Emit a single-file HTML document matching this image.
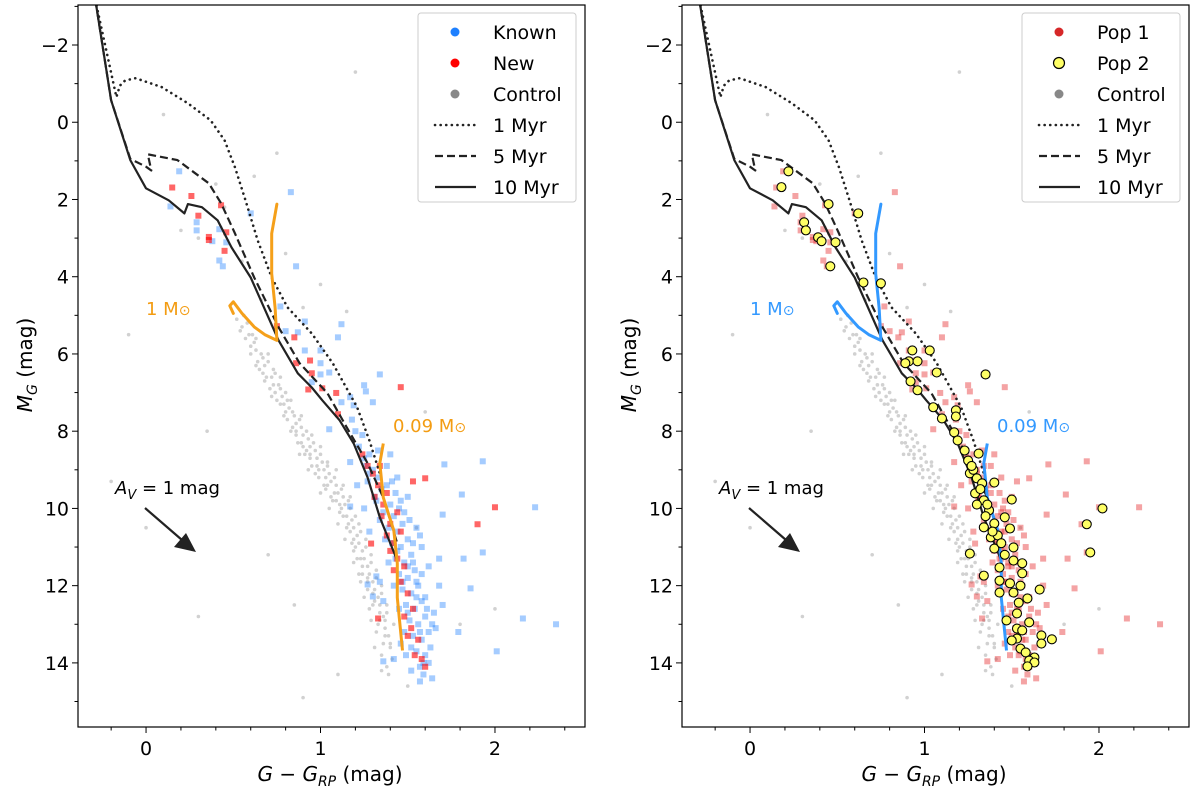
<!DOCTYPE html>
<html><head><meta charset="utf-8"><style>
body{margin:0;background:#fff}
svg text{font-family:"DejaVu Sans","Liberation Sans",sans-serif}
</style></head><body>
<svg id="fig" width="1200" height="795" viewBox="0 0 1200 795" xmlns="http://www.w3.org/2000/svg"></svg>
<script>
// ---- data (color G-GRP, absolute mag MG) ----
const iso10c=[-0.29,-0.20,-0.09,0.0,0.13,0.22,0.24,0.32,0.41,0.49,0.60,0.76,0.87,0.95,1.01,1.11,1.19,1.27,1.34,1.44];
const iso10m=[-3.16,-0.57,0.98,1.71,2.02,2.36,2.12,2.20,2.54,3.24,4.02,5.65,6.50,6.87,7.20,7.72,8.32,9.20,10.23,11.35];
const iso5c=[-0.29,-0.20,-0.09,0.0,0.03,0.01,0.18,0.36,0.43,0.51,0.62,0.76,0.88,1.04,1.15,1.27,1.36,1.44];
const iso5m=[-3.16,-0.57,0.95,1.15,1.25,0.83,0.98,1.58,2.10,2.88,4.02,5.31,6.24,7.02,7.90,8.83,9.72,10.91];
const iso1c=[-0.29,-0.17,-0.15,-0.12,-0.06,0.09,0.24,0.37,0.45,0.51,0.57,0.64,0.72,0.81,0.95,1.07,1.21,1.28,1.34];
const iso1m=[-3.16,-0.65,-0.95,-1.08,-1.14,-0.91,-0.49,-0.05,0.47,1.17,2.02,3.06,4.02,4.79,5.47,6.24,7.38,8.24,9.09];
const trk1c=[0.75,0.72,0.72,0.74,0.75,0.68,0.62,0.55,0.50,0.48,0.50];
const trk1m=[2.12,2.88,3.92,4.80,5.65,5.50,5.30,4.95,4.65,4.75,4.95];
const trk09c=[1.36,1.34,1.36,1.42,1.44,1.44,1.47];
const trk09m=[8.32,8.83,9.72,10.57,11.42,12.31,13.68];
const controlPts=[0.52,5.1,0.55,5.3,0.58,5.2,0.57,5.6,0.61,5.5,0.63,5.9,0.60,5.8,0.66,6.0,0.68,6.3,0.65,6.4,0.70,6.2,0.72,6.6,0.74,6.5,0.71,6.9,0.76,6.8,0.78,7.1,0.75,7.2,0.80,7.0,0.82,7.4,0.79,7.6,0.84,7.5,0.86,7.8,0.83,8.0,0.88,7.7,0.90,8.1,0.87,8.3,0.92,8.0,0.94,8.4,0.91,8.6,0.96,8.3,0.98,8.7,0.95,8.9,1.00,8.6,1.02,9.0,0.99,9.2,1.04,8.9,1.06,9.3,1.03,9.5,1.08,9.2,1.10,9.6,1.07,9.8,1.12,9.5,1.14,9.9,1.11,10.1,1.16,9.8,1.18,10.3,1.15,10.5,1.20,10.2,1.21,10.7,1.18,10.9,1.23,10.6,1.24,11.1,1.21,11.3,1.26,11.0,1.27,11.5,1.24,11.7,1.29,11.4,1.30,11.9,1.27,12.1,1.32,11.8,1.33,12.3,1.30,12.5,1.35,12.2,1.36,12.8,1.33,13.0,1.38,12.7,1.39,13.3,1.36,13.5,1.41,13.9,1.38,14.1,
0.56,5.0,0.62,5.7,0.67,6.1,0.73,6.4,0.77,6.9,0.81,7.2,0.85,7.6,0.89,7.9,0.93,8.2,0.97,8.5,1.01,8.8,1.05,9.1,1.09,9.4,1.13,9.7,1.17,10.0,1.19,10.5,1.22,10.9,1.25,11.3,1.28,11.7,1.31,12.1,1.34,12.5,1.37,12.9,1.40,13.6,0.88,8.6,0.93,9.0,1.00,9.6,1.05,10.0,1.10,10.4,1.14,10.8,1.19,11.4,1.23,11.9,1.28,12.6,1.32,13.2,1.35,13.8,
0.64,6.2,0.69,6.6,0.74,7.0,0.79,7.3,0.84,7.9,0.89,8.3,0.94,8.7,0.99,9.0,1.04,9.4,1.09,9.8,1.13,10.2,1.17,10.6,1.20,11.0,1.24,11.5,1.27,11.9,1.31,12.4,1.34,12.9,1.37,13.3,1.39,14.3,0.59,5.5,
0.54,5.4,0.60,6.0,0.63,5.6,0.67,6.5,0.70,6.0,0.73,6.8,0.77,6.6,0.80,7.5,0.83,7.2,0.86,8.1,0.89,7.6,0.92,8.5,0.95,8.1,0.97,9.1,1.00,8.4,1.02,9.4,1.04,8.8,1.06,9.7,1.09,9.0,1.11,9.9,1.13,9.4,1.15,10.2,1.17,9.7,1.19,10.8,1.22,10.4,1.23,11.3,1.26,10.8,1.27,11.8,1.29,11.2,1.30,12.2,1.32,11.6,1.34,12.7,1.35,12.0,1.37,13.1,1.38,12.5,1.40,13.5,1.42,13.0,1.35,14.2,1.31,13.6,1.29,12.9,1.25,12.3,1.22,11.7,1.19,11.1,1.16,10.4,1.12,10.0,1.08,9.6,1.03,9.2,0.98,8.9,0.94,8.6,0.90,8.4,0.86,8.0,0.81,7.7,0.77,7.3,0.72,7.1,0.68,6.7,0.63,6.3,
0.10,-0.2,0.40,1.6,0.30,3.0,0.45,2.2,0.62,1.4,0.75,0.8,0.80,3.4,0.90,4.8,0.55,3.6,-0.1,5.5,0.0,10.5,0.3,12.8,0.9,14.9,1.1,14.3,1.8,13.0,2.0,12.6,1.6,7.5,1.0,4.2,0.35,8.0,-0.2,9.3,1.55,10.5,0.70,11.2,0.85,12.5,1.5,14.6,0.2,2.8,1.2,-1.3,0.66,4.6,1.15,4.9];
const knownPts=[0.19,1.27,0.14,2.18,0.29,2.59,0.29,2.8,0.38,3.08,0.42,3.58,0.44,3.73,0.46,3.11,0.42,2.77,0.6,2.36,0.83,1.81,0.86,3.73,0.77,4.77,0.80,5.41,0.87,5.44,0.91,5.16,1.12,5.23,1.10,5.57,0.91,5.91,1.0,5.91,1.0,6.24,1.05,6.48,1.0,6.53,0.95,6.73,1.34,6.53,1.25,6.81,1.26,6.97,1.30,7.25,1.17,7.12,1.12,7.25,1.19,7.33,
1.71,8.86,1.93,8.78,1.81,9.64,2.23,9.97,1.70,10.16,1.93,11.14,1.82,11.30,1.68,11.30,1.86,12.07,2.16,12.85,2.35,13.0,2.01,13.7,1.79,13.2,1.36,13.96,1.42,13.9,1.57,14.48,1.27,11.97,1.30,12.28,1.32,11.76,1.17,9.95,1.05,7.95,
1.22,8.4,1.25,8.7,1.28,8.6,1.30,9.0,1.33,9.2,1.27,9.3,1.35,9.5,1.38,9.4,1.32,9.8,1.40,9.9,1.36,10.1,1.42,10.2,1.45,10.0,1.39,10.5,1.44,10.6,1.47,10.4,1.41,10.9,1.46,11.0,1.50,10.8,1.43,11.3,1.48,11.4,1.52,11.2,1.45,11.7,1.50,11.8,1.54,11.6,1.47,12.1,1.52,12.2,1.56,12.0,1.49,12.5,1.54,12.6,1.58,12.4,1.51,12.9,1.56,13.0,1.60,12.8,1.53,13.3,1.58,13.4,1.62,13.2,1.55,13.7,1.60,13.8,1.57,14.1,1.62,14.0,1.59,14.3,1.48,13.2,1.45,12.6,1.42,12.0,1.39,11.4,1.37,10.8,1.34,10.3,1.31,9.7,1.28,9.1,1.26,8.9,1.50,11.5,1.55,11.9,1.60,12.3,1.65,12.7,1.63,13.6,1.66,13.1,1.53,10.9,1.48,10.1,1.43,9.6,1.38,8.9,1.33,8.5,1.24,8.1,1.18,7.7,1.20,8.0,1.44,9.2,1.40,8.6,1.50,9.7,1.55,10.5,1.58,11.0,1.62,11.5,1.68,12.0,1.70,12.5,1.64,14.4,1.52,14.2,1.49,13.8,1.46,13.5,1.36,12.4,1.34,11.9,1.28,10.6,1.25,10.0,1.21,9.4,1.17,8.8,
1.41,9.3,1.46,9.8,1.51,10.3,1.57,10.7,1.44,11.1,1.53,11.4,1.58,11.7,1.47,11.9,1.55,12.3,1.61,12.6,1.50,12.7,1.57,13.2,1.64,13.0,1.52,13.6,1.59,14.0];
const newPts=[0.15,1.69,0.26,1.91,0.30,2.42,0.43,2.15,0.46,2.85,0.36,2.97,0.36,3.05,0.45,3.33,0.75,5.28,0.85,5.57,0.86,6.24,0.94,6.17,0.95,6.50,0.93,6.92,1.01,6.89,1.09,7.01,1.46,6.86,1.53,9.30,1.60,9.22,2.0,9.97,1.90,10.41,1.29,10.91,1.33,12.85,1.10,7.56,
1.27,8.9,1.30,9.1,1.33,9.4,1.31,9.7,1.36,9.9,1.35,10.2,1.40,10.4,1.38,10.7,1.42,10.9,1.46,10.6,1.40,11.1,1.44,11.3,1.48,11.5,1.42,11.6,1.46,11.9,1.50,12.2,1.53,12.6,1.48,12.8,1.52,13.1,1.56,13.4,1.54,13.8,1.58,13.9,1.60,14.1,1.50,13.3,1.24,8.6,1.34,8.9,1.38,9.6,1.44,10.1];
const pop2Pts=[0.22,1.27,0.18,1.68,0.31,2.59,0.32,2.80,0.39,2.98,0.41,3.08,0.45,2.12,0.49,3.11,0.46,3.73,0.62,2.36,0.65,4.15,0.75,4.17,0.93,5.91,1.03,5.91,0.91,6.19,0.89,6.24,0.96,6.19,1.07,6.48,1.35,6.53,0.92,6.71,0.96,6.94,1.05,7.38,1.10,7.67,1.18,7.46,1.18,7.62,1.17,8.03,1.19,8.24,1.23,8.50,1.31,8.58,1.25,8.76,1.26,9.09,1.30,9.22,1.33,9.35,1.40,9.33,1.29,9.61,1.34,9.79,1.50,9.77,1.37,10.05,1.34,10.49,1.40,10.39,1.46,10.23,1.49,10.52,1.38,10.75,1.40,11.04,1.26,11.17,1.51,11.01,1.51,11.35,1.56,11.42,1.43,11.53,1.34,11.74,1.56,11.68,1.43,11.87,1.49,11.94,1.55,12.0,1.66,12.10,1.43,12.18,1.51,12.18,1.54,12.44,1.59,12.33,1.53,12.72,1.60,12.95,1.47,12.90,1.53,13.11,1.56,13.16,1.67,13.29,1.73,13.39,1.67,13.50,1.53,13.37,1.50,13.42,1.55,13.63,1.58,13.73,1.63,13.86,1.60,13.94,1.63,13.99,1.59,14.09,1.93,10.41,2.02,10.0,1.95,11.14,1.28,9.0,1.32,9.5,1.36,9.9,1.30,9.9,1.42,10.7,1.44,10.9,1.27,8.9,1.35,10.2,1.39,10.6,1.46,11.2];
const yTicks=[-2,0,2,4,6,8,10,12,14];
const xTicks=[0,1,2];
const legendLeft=["Known","New","Control","1 Myr","5 Myr","10 Myr"];
const legendRight=["Pop 1","Pop 2","Control","1 Myr","5 Myr","10 Myr"];

const NS="http://www.w3.org/2000/svg";
const svg=document.getElementById('fig');
function mk(tag,attrs,parent){const e=document.createElementNS(NS,tag);for(const k in attrs)e.setAttribute(k,attrs[k]);(parent||svg).appendChild(e);return e;}
const XMIN=-0.39,XMAX=2.516,YMIN=-3.036,YMAX=15.66,Y0=5,Y1=727,W=507;

function panel(ox,isLeft){
  const g=mk('g',{});
  
  
  const sx=c=>ox+(c-XMIN)/(XMAX-XMIN)*W;
  const sy=m=>Y0+(m-YMIN)/(YMAX-YMIN)*(Y1-Y0);
  const clip='clip'+ox;
  const cp=mk('clipPath',{id:clip},g);mk('rect',{x:ox,y:Y0,width:W,height:Y1-Y0},cp);
  const pg=mk('g',{'clip-path':'url(#'+clip+')'},g);
  const cg=mk('g',{},pg);
  
  
  for(let i=0;i<controlPts.length;i+=2){
    mk('circle',{cx:sx(controlPts[i]),cy:sy(controlPts[i+1]),r:1.8,fill:'#999','fill-opacity':0.45},cg);
  }
  const sq=(arr,fill,op,name)=>{
    const sg=mk('g',{},pg);
    
    
    for(let i=0;i<arr.length;i+=2){
      mk('rect',{x:sx(arr[i])-3,y:sy(arr[i+1])-3,width:6,height:6,fill:fill,'fill-opacity':op},sg);
    }
  };
  if(isLeft){sq(knownPts,'#1f7fff',0.4,'known-points');sq(newPts,'#ff0000',0.6,'new-points');}
  else{sq(knownPts,'#e31a1c',0.4,'pop1-points');sq(newPts,'#e31a1c',0.4,'pop1-points-b');}
  const line=(cs,ms,attrs,name)=>{
    let d='';for(let i=0;i<cs.length;i++)d+=(i?'L':'M')+sx(cs[i]).toFixed(1)+','+sy(ms[i]).toFixed(1);
    const p=mk('path',Object.assign({d:d,fill:'none','stroke-linejoin':'round'},attrs),pg);
    
    
  };
  line(iso1c,iso1m,{stroke:'#222','stroke-width':2.6,'stroke-dasharray':'0.1,5.5','stroke-linecap':'round'},'isochrone-1myr');
  line(iso5c,iso5m,{stroke:'#222','stroke-width':2.2,'stroke-dasharray':'8,4'},'isochrone-5myr');
  line(iso10c,iso10m,{stroke:'#222','stroke-width':2.2},'isochrone-10myr');
  const tc=isLeft?'#f5a01a':'#3399ff';
  line(trk1c,trk1m,{stroke:tc,'stroke-width':3,'stroke-linecap':'round'},'track-1msun');
  line(trk09c,trk09m,{stroke:tc,'stroke-width':3},'track-009msun');
  if(!isLeft){
    const yg=mk('g',{},pg);
    
    
    for(let i=0;i<pop2Pts.length;i+=2){
      mk('circle',{cx:sx(pop2Pts[i]),cy:sy(pop2Pts[i+1]),r:4.5,fill:'#ffff66',stroke:'#000','stroke-width':1.1},yg);
    }
  }
  const tcol=isLeft?'#f39c12':'#3399ff';
  const l1=mk('text',{x:ox+68,y:315,'font-size':18,fill:tcol},g);l1.innerHTML='1 M<tspan font-size="14">⊙</tspan>';
  
  const l2=mk('text',{x:ox+315,y:432,'font-size':18,fill:tcol},g);l2.innerHTML='0.09 M<tspan font-size="14">⊙</tspan>';
  
  const av=mk('text',{x:ox+37,y:494,'font-size':18,fill:'#000'},g);
  av.innerHTML='<tspan font-style="italic">A</tspan><tspan font-style="italic" font-size="13" dy="5">V</tspan><tspan dy="-5"> = 1 mag</tspan>';
  
  const ar=mk('g',{},g);
  mk('line',{x1:ox+67,y1:508,x2:ox+104,y2:540,stroke:'#222','stroke-width':2.2},ar);
  mk('polygon',{points:`${ox+118},${552} ${ox+96},${547} ${ox+108},${533}`,fill:'#222'},ar);
  mk('rect',{x:ox,y:Y0,width:W,height:Y1-Y0,fill:'none',stroke:'#000','stroke-width':1.2},g);
  for(let m=-3;m<=15;m++){
    const y=sy(m);const major=yTicks.includes(m);
    mk('line',{x1:ox-(major?6:3.5),x2:ox,y1:y,y2:y,stroke:'#000','stroke-width':1},g);
    if(major){const t=mk('text',{x:ox-9,y:y+7,'font-size':19,'text-anchor':'end'},g);t.textContent=(m<0?'−'+(-m):m);
      }
  }
  for(let k=-1;k<=12;k++){
    const c=k*0.2;if(c<XMIN||c>XMAX)continue;const x=sx(c);const major=Math.abs(c-Math.round(c))<1e-6;
    mk('line',{x1:x,x2:x,y1:Y1,y2:Y1+(major?6:3.5),stroke:'#000','stroke-width':1},g);
  }
  xTicks.forEach(v=>{const t=mk('text',{x:sx(v),y:Y1+28,'font-size':19,'text-anchor':'middle'},g);t.textContent=v;
    });
  const xl=mk('text',{x:ox+252,y:781,'font-size':20,'text-anchor':'middle'},g);
  xl.innerHTML='<tspan font-style="italic">G</tspan> − <tspan font-style="italic">G</tspan><tspan font-style="italic" font-size="14" dy="5">RP</tspan><tspan dy="-5"> (mag)</tspan>';
  
  const yl=mk('text',{x:0,y:0,'font-size':20,'text-anchor':'middle',transform:`translate(${ox-46},365) rotate(-90)`},g);
  yl.innerHTML='<tspan font-style="italic">M</tspan><tspan font-style="italic" font-size="14" dy="5">G</tspan><tspan dy="-5"> (mag)</tspan>';
  
  const lx=ox+340,ly=13;
  const lg=mk('g',{},g);
  mk('rect',{x:lx,y:ly,width:158,height:189,rx:3,fill:'#fff','fill-opacity':0.85,stroke:'#ccc'},lg);
  const labs=isLeft?legendLeft:legendRight;
  labs.forEach((s,i)=>{
    const y=ly+19+i*31;
    const e=mk('g',{},lg);
    
    
    if(i<3){
      let fill=['#1e80ff','#ff0000','#888'][i];
      if(!isLeft)fill=['#d62728','#ffff66','#888'][i];
      mk('circle',{cx:lx+37,cy:y,r:(!isLeft&&i==1)?5.5:4.5,fill:fill,stroke:(!isLeft&&i==1)?'#000':'none','stroke-width':1.2},e);
    }else{
      const da=['0.1,5.5','8,4','none'][i-3];
      mk('line',{x1:lx+17,x2:lx+58,y1:y,y2:y,stroke:'#222','stroke-width':i==3?2.6:2.2,'stroke-dasharray':da,'stroke-linecap':i==3?'round':'butt'},e);
    }
    const t=mk('text',{x:lx+75,y:y+7,'font-size':19},e);t.textContent=s;
  });
}
panel(78,true);
panel(682,false);
</script>
</body></html>
